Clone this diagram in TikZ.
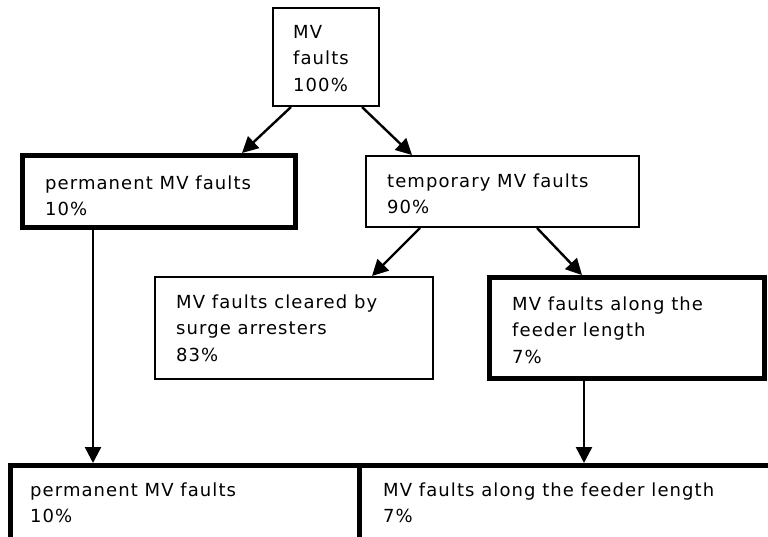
\documentclass[tikz,border=0pt]{standalone}
\usepackage{fontspec}
\newfontfamily\lblfont[LetterSpace=6]{DejaVu Sans}
\usetikzlibrary{arrows.meta}
% fixed first-line height so every label starts at a known baseline
\newcommand\lnup{\rule{0pt}{14pt}}
\begin{document}
\begin{tikzpicture}[x=1pt,y=-1pt,
  box/.style={draw, line width=1.6pt, anchor=north west, inner sep=0pt},
  heavybox/.style={box, line width=5pt},
  lbl/.style={anchor=north west, inner sep=0pt, align=left,
    font=\lblfont\fontsize{18}{26.5}\selectfont},
  link/.style={line width=2.4pt, -{Triangle[length=16pt,width=16pt]}}]
\clip (0,0) rectangle (768,536);

% boxes (placed by their outer top-left corner)
\node[box, minimum width=106.4pt, minimum height=98.4pt] (mv) at (272,7) {};
\node[heavybox, minimum width=273pt, minimum height=72pt] (perm) at (20,153) {};
\node[box, minimum width=273.4pt, minimum height=71.4pt] (temp) at (365,155) {};
\node[box, minimum width=278.4pt, minimum height=102.4pt] (clear) at (154,276) {};
\node[heavybox, minimum width=275pt, minimum height=101pt] (feed) at (487,275) {};
\node[heavybox, minimum width=425pt, minimum height=75pt] (botR) at (357,463) {};
\node[heavybox, minimum width=349pt, minimum height=75pt] (botL) at (8,463) {};

% labels
\node[lbl] (tmv) at ([shift={(21,17)}]mv.north west) {\lnup MV\\faults\\100\%};
\node[lbl] (tperm) at ([shift={(25,22)}]perm.north west) {\lnup permanent MV faults\\10\%};
\node[lbl] (ttemp) at ([shift={(22,18)}]temp.north west) {\lnup temporary MV faults\\90\%};
\node[lbl] (tclear) at ([shift={(22,18)}]clear.north west) {\lnup MV faults cleared by\\surge arresters\\83\%};
\node[lbl] (tfeed) at ([shift={(25,21)}]feed.north west) {\lnup MV faults along the\\feeder length\\7\%};
\node[lbl] (tbotL) at ([shift={(22,19)}]botL.north west) {\lnup permanent MV faults\\10\%};
\node[lbl] (tbotR) at ([shift={(26,19)}]botR.north west) {\lnup MV faults along the feeder length\\7\%};

% connectors
\draw[link] ([xshift=19pt]mv.south west) -- ([xshift=222pt]perm.north west);
\draw[link] ([xshift=90pt]mv.south west) -- ([xshift=47pt]temp.north west);
\draw[link] ([xshift=55pt]temp.south west) -- ([xshift=218pt]clear.north west);
\draw[link] ([xshift=172pt]temp.south west) -- ([xshift=95pt]feed.north west);
\draw[link] ([xshift=73pt]perm.south west) -- ([xshift=85pt]botL.north west);
\draw[link] ([xshift=97pt]feed.south west) -- ([xshift=227pt]botR.north west);
\end{tikzpicture}
\end{document}
